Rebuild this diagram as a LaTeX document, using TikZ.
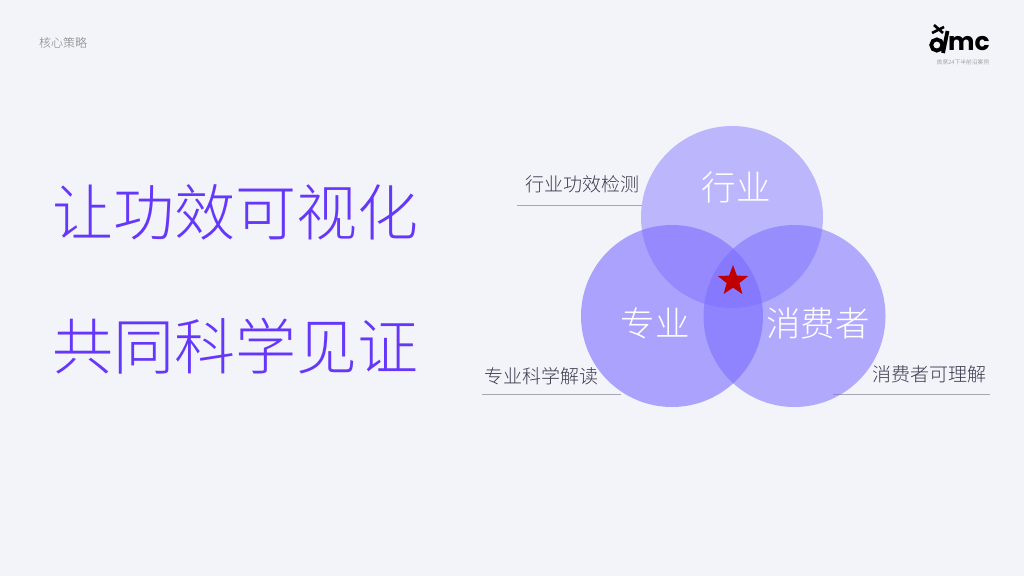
\documentclass[tikz,border=0pt]{standalone}
\usepackage{fontspec}
\setmainfont{Noto Sans CJK SC}[UprightFont=* Light,BoldFont=* Bold]
\newfontfamily\logofont{Poppins}[UprightFont=* Bold]
\usetikzlibrary{shapes.geometric}
\definecolor{bgc}{HTML}{F3F4FA}
\definecolor{headc}{HTML}{6437FA}
\definecolor{circA}{HTML}{7B6CFF}
\definecolor{labc}{HTML}{3E3A4E}
\definecolor{rulec}{HTML}{A8A8B0}
\definecolor{starc}{HTML}{C00000}
\tikzset{
  bigline/.style={font=\fontsize{61}{61}\selectfont,text=headc,inner sep=0,anchor=west},
  venn/.style={circle,minimum size=182pt,inner sep=0,fill=circA},
  vennlabel/.style={font=\fontsize{34.5}{34.5}\selectfont,text=white,inner sep=0},
  sidelabel/.style={font=\fontsize{19}{19}\selectfont,text=labc,inner sep=0},
  leader/.style={draw=rulec,line width=1pt},
  logoink/.style={draw=black,line width=3.8pt}
}
\begin{document}
\begin{tikzpicture}[x=1pt,y=-1pt]
\path[use as bounding box,fill=bgc] (0,0) rectangle (1024,576);
\node[font=\fontsize{12}{12}\selectfont,text=gray,inner sep=0,anchor=west] (crumb) at (39,43) {核心策略};
\node[bigline] (h1) at (52,212) {让功效可视化};
\node[bigline] (h2) at (52,346) {共同科学见证};
\coordinate (la) at (517,205.5); \coordinate (lb) at (642,205.5);
\coordinate (lc) at (482,394); \coordinate (ld) at (621,394);
\coordinate (le) at (833,394); \coordinate (lf) at (990,394);
\draw[leader] (la) -- (lb);
\draw[leader] (lc) -- (ld);
\draw[leader] (le) -- (lf);
\node[venn,fill opacity=.45] (top) at (732,217) {};
\node[venn,fill opacity=.6] (left) at (672,316) {};
\node[venn,fill opacity=.55] (right) at (794.5,316) {};
\node[vennlabel] (t1) at (736,187) {行业};
\node[vennlabel] (t2) at (655,323) {专业};
\node[vennlabel] (t3) at (818,323) {消费者};
\node[star,star points=5,star point ratio=2.4,fill=starc,minimum size=32pt,inner sep=0] (s) at (733,281) {};
\node[sidelabel] (s1) at (582,184) {行业功效检测};
\node[sidelabel] (s2) at (541,376) {专业科学解读};
\node[sidelabel] (s3) at (929,374) {消费者可理解};
% logo
\draw[logoink] (936.8,45) circle (5.6pt);
\draw[logoink] (947.5,31) -- (943,53);
\draw[black,line width=2.6pt] (934,25) -- (943,33) (932,33) -- (944,27);
\node[font=\logofont\fontsize{25}{25}\selectfont,text=black,inner sep=0,anchor=west] (lg) at (948,44) {mc};
\node[font=\fontsize{5.8}{5.8}\selectfont,text=gray,inner sep=0] (lc2) at (963,62) {首席24下半前沿案例};
\end{tikzpicture}
\end{document}
